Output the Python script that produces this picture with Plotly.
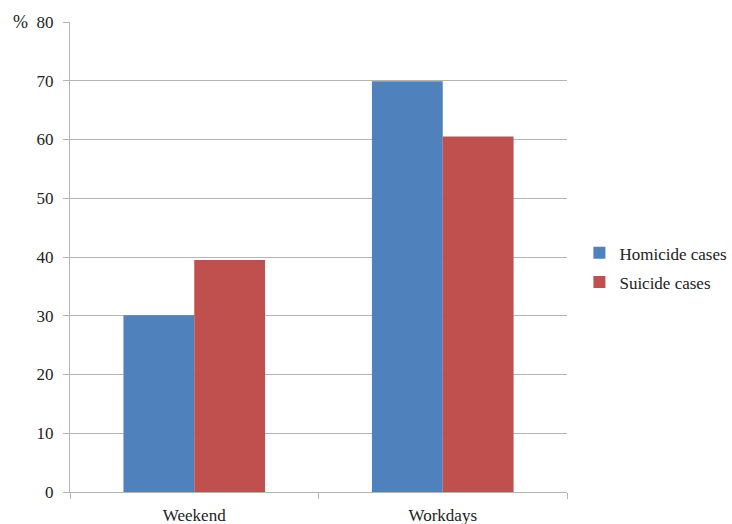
import plotly.graph_objects as go

categories = ["Weekend", "Workdays"]
homicide = [30.1, 69.9]
suicide = [39.5, 60.5]
series_names = ["Homicide cases", "Suicide cases"]
y_ticks = [0, 10, 20, 30, 40, 50, 60, 70, 80]

FONT = "Liberation Serif"
GRID = "#b4b4b4"
TXT = "#222222"

fig = go.Figure()
fig.add_trace(go.Bar(x=categories, y=homicide, name=series_names[0],
                     marker=dict(color="#4F81BD", line=dict(width=0)),
                     legendgroup="a"))
fig.add_trace(go.Bar(x=categories, y=suicide, name=series_names[1],
                     marker=dict(color="#C0504D", line=dict(width=0)),
                     legendgroup="b"))

fig.update_layout(
    width=732, height=524,
    margin=dict(l=70, r=165, t=22, b=32, autoexpand=False),
    paper_bgcolor="white", plot_bgcolor="white",
    barmode="group", bargap=0.43, bargroupgap=0,
    font=dict(family=FONT, size=16, color=TXT),
    legend=dict(x=1.025, y=0.477, xanchor="left", yanchor="middle",
                traceorder="grouped", tracegroupgap=4,
                font=dict(family=FONT, size=17, color=TXT),
                itemwidth=30),
    showlegend=True,
)
fig.update_xaxes(
    range=[-0.5, 1.5], showline=True, linecolor=GRID, linewidth=1,
    ticks="outside", tickson="boundaries", ticklen=6, tickcolor=GRID,
    showgrid=False, tickfont=dict(family=FONT, size=17, color=TXT),
    ticklabelstandoff=8,
)
fig.update_yaxes(
    range=[0, 80], tickvals=y_ticks, showline=True, linecolor=GRID, linewidth=1,
    ticks="outside", ticklen=6, tickcolor=GRID, showgrid=True, gridcolor=GRID,
    gridwidth=1, zeroline=False,
    tickfont=dict(family=FONT, size=17, color=TXT),
    ticklabelstandoff=6,
)
fig.add_annotation(text="%", xref="paper", yref="paper", x=-0.1, y=1,
                   xanchor="center", yanchor="middle", showarrow=False,
                   font=dict(family=FONT, size=18, color=TXT))

fig.write_html("out.html")
